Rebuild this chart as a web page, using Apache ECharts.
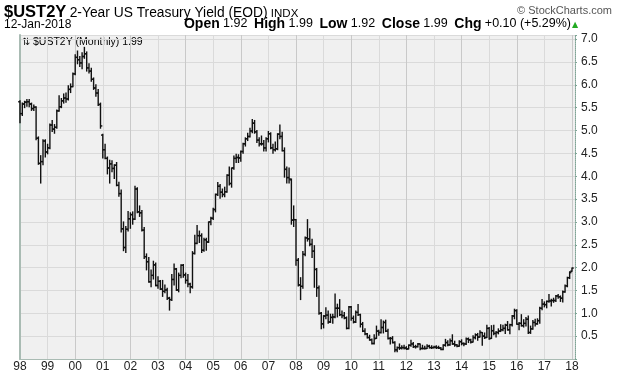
<!DOCTYPE html>
<html><head><meta charset="utf-8">
<script src="https://cdn.jsdelivr.net/npm/echarts@6/dist/echarts.min.js"></script>
<style>html,body{margin:0;padding:0;background:#fff}#c{width:620px;height:379px}</style>
</head><body><div id="c"></div>
<script>
// Monthly bars, Jan 1998 .. Jan 2018 (one row per year)
const startYear = 1998;
const yearLabels = ['98','99','00','01','02','03','04','05','06','07','08','09','10','11','12','13','14','15','16','17','18'];
const yTicks = [0.5,1.0,1.5,2.0,2.5,3.0,3.5,4.0,4.5,5.0,5.5,6.0,6.5,7.0];

const opens = [
5.63,5.37,5.58,5.62,5.63,5.58,5.48,5.51,4.83,4.28,4.32,4.77,
4.53,4.62,5.12,5.03,5.07,5.43,5.52,5.65,5.71,5.69,5.90,5.96,
6.24,6.60,6.55,6.48,6.62,6.68,6.37,6.30,6.12,5.93,5.82,5.57,
4.90,4.58,4.39,4.18,4.27,4.17,4.24,3.80,3.62,2.85,2.44,2.84,
3.07,3.16,3.06,3.72,3.22,3.20,2.82,2.24,2.13,1.69,1.83,2.06,
1.61,1.70,1.53,1.48,1.51,1.33,1.30,1.74,1.97,1.51,1.83,2.05,
1.84,1.72,1.64,1.58,2.31,2.53,2.70,2.70,2.38,2.61,2.56,3.00,
3.08,3.27,3.60,3.78,3.65,3.60,3.66,4.02,3.84,4.18,4.39,4.41,
4.40,4.54,4.71,4.82,4.87,4.99,5.16,4.97,4.79,4.71,4.71,4.62,
4.82,4.93,4.62,4.58,4.60,4.92,4.87,4.56,4.15,3.97,3.92,3.04,
3.05,2.16,1.62,1.59,2.29,2.65,2.63,2.51,2.36,1.96,1.56,1.00,
0.77,0.94,0.96,0.81,0.91,0.92,1.11,1.11,0.97,0.95,0.90,0.67,
1.14,0.89,0.81,1.02,0.97,0.76,0.61,0.55,0.47,0.42,0.34,0.45,
0.61,0.58,0.69,0.80,0.61,0.45,0.45,0.36,0.20,0.25,0.24,0.25,
0.24,0.22,0.30,0.33,0.27,0.27,0.33,0.23,0.23,0.23,0.28,0.25,
0.25,0.26,0.25,0.24,0.21,0.30,0.36,0.31,0.40,0.33,0.31,0.28,
0.38,0.34,0.33,0.44,0.42,0.37,0.47,0.53,0.48,0.58,0.50,0.47,
0.67,0.45,0.62,0.56,0.58,0.61,0.64,0.67,0.74,0.64,0.75,0.94,
1.06,0.76,0.78,0.73,0.78,0.87,0.58,0.66,0.80,0.77,0.84,1.11,
1.20,1.19,1.26,1.27,1.28,1.28,1.38,1.36,1.33,1.47,1.60,1.78,
1.92];
const highs = [
5.65,5.60,5.64,5.68,5.68,5.60,5.56,5.52,4.86,4.45,4.80,4.80,
4.70,5.14,5.22,5.13,5.45,5.76,5.70,5.80,5.82,5.98,6.02,6.26,
6.66,6.74,6.62,6.70,6.82,6.72,6.46,6.36,6.15,6.00,5.90,5.60,
4.92,4.70,4.42,4.35,4.34,4.25,4.30,3.87,3.70,3.00,2.90,3.23,
3.20,3.22,3.78,3.75,3.35,3.25,2.88,2.30,2.22,1.95,2.14,2.10,
1.80,1.72,1.72,1.62,1.55,1.35,1.85,2.08,1.98,1.88,2.06,2.07,
1.88,1.85,1.66,2.35,2.71,2.92,2.80,2.74,2.64,2.64,3.00,3.10,
3.30,3.61,3.86,3.82,3.72,3.76,4.03,4.20,4.18,4.44,4.48,4.47,
4.55,4.72,4.84,4.94,5.05,5.24,5.22,5.00,4.84,4.88,4.78,4.84,
4.98,4.95,4.70,4.75,4.93,5.12,4.96,4.62,4.20,4.18,3.94,3.35,
3.05,2.20,1.78,2.35,2.67,3.05,2.85,2.62,2.48,1.98,1.60,1.02,
0.95,1.12,1.05,0.98,0.98,1.42,1.20,1.30,1.05,1.02,0.92,1.15,
1.15,0.94,1.05,1.19,0.98,0.80,0.66,0.56,0.52,0.44,0.53,0.72,
0.63,0.86,0.83,0.85,0.65,0.47,0.49,0.38,0.26,0.33,0.29,0.30,
0.27,0.31,0.41,0.36,0.30,0.34,0.33,0.30,0.28,0.31,0.30,0.29,
0.28,0.29,0.28,0.25,0.31,0.43,0.40,0.44,0.53,0.39,0.32,0.40,
0.42,0.35,0.46,0.46,0.43,0.51,0.55,0.56,0.62,0.58,0.57,0.74,
0.69,0.73,0.74,0.60,0.66,0.75,0.74,0.76,0.82,0.76,0.95,1.09,
1.08,0.80,0.97,0.86,0.91,0.94,0.72,0.84,0.87,0.88,1.13,1.30,
1.25,1.27,1.41,1.31,1.33,1.39,1.41,1.38,1.49,1.62,1.79,1.91,
1.99];
const lows = [
5.17,5.33,5.50,5.53,5.52,5.44,5.44,4.80,4.26,3.85,4.25,4.42,
4.49,4.60,4.98,4.94,5.05,5.42,5.50,5.60,5.62,5.67,5.83,5.96,
6.22,6.46,6.40,6.35,6.58,6.30,6.26,6.08,5.90,5.75,5.55,5.05,
4.40,4.38,4.05,3.85,4.10,3.95,3.79,3.56,2.78,2.37,2.33,2.80,
2.86,2.95,3.05,3.20,3.12,2.80,2.20,1.95,1.68,1.58,1.75,1.60,
1.55,1.52,1.37,1.45,1.30,1.07,1.28,1.62,1.50,1.47,1.78,1.79,
1.66,1.58,1.45,1.55,2.30,2.52,2.55,2.33,2.36,2.38,2.55,2.94,
3.05,3.22,3.58,3.52,3.55,3.55,3.65,3.81,3.76,4.15,4.30,4.30,
4.33,4.50,4.66,4.78,4.86,4.95,4.94,4.74,4.66,4.68,4.55,4.55,
4.75,4.60,4.50,4.55,4.58,4.82,4.55,3.98,3.85,3.85,2.95,2.90,
2.05,1.60,1.30,1.55,2.26,2.58,2.48,2.22,1.57,1.37,0.98,0.66,
0.68,0.88,0.78,0.80,0.78,0.90,0.92,0.95,0.90,0.88,0.66,0.66,
0.85,0.79,0.80,0.95,0.70,0.60,0.53,0.46,0.41,0.33,0.33,0.45,
0.52,0.57,0.57,0.60,0.44,0.33,0.35,0.16,0.16,0.21,0.22,0.22,
0.21,0.22,0.28,0.25,0.24,0.26,0.20,0.22,0.22,0.23,0.24,0.23,
0.24,0.23,0.23,0.20,0.20,0.28,0.29,0.30,0.32,0.28,0.27,0.28,
0.31,0.29,0.32,0.36,0.35,0.37,0.44,0.41,0.48,0.30,0.45,0.47,
0.43,0.45,0.53,0.48,0.55,0.60,0.62,0.56,0.63,0.55,0.72,0.88,
0.76,0.64,0.72,0.70,0.72,0.56,0.56,0.65,0.72,0.76,0.78,1.08,
1.14,1.12,1.24,1.16,1.24,1.26,1.33,1.26,1.25,1.46,1.58,1.76,
1.92];
const closes = [
5.37,5.58,5.62,5.63,5.58,5.48,5.51,4.83,4.28,4.32,4.77,4.53,
4.62,5.12,5.03,5.07,5.43,5.52,5.65,5.71,5.69,5.90,5.96,6.24,
6.60,6.55,6.48,6.62,6.68,6.37,6.30,6.12,5.93,5.82,5.57,5.10,
4.58,4.39,4.18,4.27,4.17,4.24,3.80,3.62,2.85,2.44,2.84,3.07,
3.16,3.06,3.72,3.22,3.20,2.82,2.24,2.13,1.69,1.83,2.06,1.61,
1.70,1.53,1.48,1.51,1.33,1.30,1.74,1.97,1.51,1.83,2.05,1.84,
1.72,1.64,1.58,2.31,2.53,2.70,2.70,2.38,2.61,2.56,3.00,3.08,
3.27,3.60,3.78,3.65,3.60,3.66,4.02,3.84,4.18,4.39,4.41,4.40,
4.54,4.71,4.82,4.87,4.99,5.16,4.97,4.79,4.71,4.71,4.62,4.82,
4.93,4.62,4.58,4.60,4.92,4.87,4.56,4.15,3.97,3.94,3.04,3.05,
2.16,1.62,1.59,2.29,2.65,2.63,2.51,2.36,1.96,1.56,1.00,0.77,
0.94,0.96,0.81,0.91,0.92,1.11,1.11,0.97,0.95,0.90,0.67,1.14,
0.89,0.81,1.02,0.97,0.76,0.61,0.55,0.47,0.42,0.34,0.45,0.61,
0.58,0.69,0.80,0.61,0.45,0.45,0.36,0.20,0.25,0.24,0.25,0.24,
0.22,0.30,0.33,0.27,0.27,0.33,0.23,0.23,0.23,0.28,0.25,0.25,
0.26,0.25,0.24,0.21,0.30,0.36,0.31,0.40,0.33,0.31,0.28,0.38,
0.34,0.33,0.44,0.42,0.37,0.47,0.53,0.48,0.58,0.50,0.47,0.67,
0.45,0.62,0.56,0.58,0.61,0.64,0.67,0.74,0.64,0.75,0.94,1.06,
0.76,0.78,0.73,0.78,0.87,0.58,0.66,0.80,0.77,0.84,1.11,1.20,
1.19,1.26,1.27,1.28,1.28,1.38,1.36,1.33,1.47,1.60,1.78,1.89,
1.99];

const symbol = '$UST2Y';
const titleText = '2-Year US Treasury Yield (EOD)';
const dateText = '12-Jan-2018';
const quote = {open:'1.92', high:'1.99', low:'1.92', close:'1.99', chg:'+0.10 (+5.29%)'};

const data = closes.map((c, i) => [startYear + i / 12, opens[i], highs[i], lows[i], c]);

const FONT = 'Liberation Sans';
const frameColor = '#a9bbb3';
const chart = echarts.init(document.getElementById('c'));
chart.setOption({
  animation: false,
  backgroundColor: '#fff',
  grid: {left: 20, right: 45, top: 35, bottom: 20, show: true, backgroundColor: '#f0f0f0', borderWidth: 0},
  xAxis: [{
    type: 'value', min: 1998, max: 2018.11, interval: 1,
    axisLine: {show: true, lineStyle: {color: frameColor, width: 1}},
    axisTick: {show: false},
    axisLabel: {color: '#222', fontFamily: FONT, fontSize: 12, margin: 2,
      formatter: v => { const k = Math.round(v - startYear); return Math.abs(v - startYear - k) < 1e-6 ? (yearLabels[k] || '') : ''; }},
    splitLine: {show: true, lineStyle: {color: ['#c9c9c9', '#dadada'], width: 1}}
  }, {
    type: 'value', position: 'top', min: 1998, max: 2018.11,
    axisLine: {show: true, lineStyle: {color: frameColor}}, axisTick: {show: false}, axisLabel: {show: false}, splitLine: {show: false}
  }],
  yAxis: [{
    type: 'value', position: 'right', min: 0, max: 7.09, interval: 0.5,
    axisLine: {show: true, lineStyle: {color: '#7fa596', type: 'dotted', width: 1}},
    axisTick: {show: true, length: 2, lineStyle: {color: '#7fa596'}},
    axisLabel: {color: '#222', fontFamily: FONT, fontSize: 12, margin: 6,
      formatter: v => { const t = yTicks.find(q => Math.abs(q - v) < 1e-6); return t === undefined ? '' : t.toFixed(1); }},
    splitLine: {show: true, lineStyle: {color: '#dadada', width: 1}}
  }, {
    type: 'value', position: 'left', min: 0, max: 7.09,
    axisLine: {show: true, lineStyle: {color: frameColor, width: 2}}, axisTick: {show: false}, axisLabel: {show: false}, splitLine: {show: false}
  }],
  series: [{
    type: 'custom',
    data: data,
    encode: {x: 0, y: [1, 2, 3, 4]},
    renderItem: function (params, api) {
      const t = api.value(0);
      const o = api.coord([t, api.value(1)]);
      const h = api.coord([t, api.value(2)]);
      const l = api.coord([t, api.value(3)]);
      const c = api.coord([t, api.value(4)]);
      const x = h[0];
      const st = {stroke: '#111', lineWidth: 1.4};
      return {type: 'group', children: [
        {type: 'line', shape: {x1: x, y1: h[1] - 0.5, x2: x, y2: l[1] + 0.5}, style: st},
        {type: 'line', shape: {x1: x - 1.8, y1: o[1], x2: x, y2: o[1]}, style: st},
        {type: 'line', shape: {x1: x, y1: c[1], x2: x + 1.8, y2: c[1]}, style: st}
      ]};
    }
  }],
  graphic: [
    {type: 'text', left: 4, top: 4, style: {
      text: '{a|' + symbol + '} {b|' + titleText + '} {c|INDX}',
      rich: {
        a: {fontFamily: FONT, fontSize: 16.5, fontWeight: 'bold', fill: '#000', verticalAlign: 'bottom'},
        b: {fontFamily: FONT, fontSize: 13.8, fill: '#000', verticalAlign: 'bottom', padding: [0, 0, 1, 0]},
        c: {fontFamily: FONT, fontSize: 11.5, fill: '#000', verticalAlign: 'bottom', padding: [0, 0, 1, 0]}
      }}},
    {type: 'text', right: 8, top: 5, style: {text: '\u00A9 StockCharts.com', fontFamily: FONT, fontSize: 11, fill: '#555'}},
    {type: 'text', left: 4, top: 19, style: {text: dateText, fontFamily: FONT, fontSize: 12, fill: '#000'}},
    {type: 'text', right: 49, top: 17, style: {
      text: '{l|Open} {v|' + quote.open + '}  {l|High} {v|' + quote.high + '}  {l|Low} {v|' + quote.low + '}  {l|Close} {v|' + quote.close + '}  {l|Chg} {v|' + quote.chg + '}',
      rich: {
        l: {fontFamily: FONT, fontSize: 14, fontWeight: 'bold', fill: '#000', verticalAlign: 'bottom'},
        v: {fontFamily: FONT, fontSize: 12.5, fill: '#000', verticalAlign: 'bottom', padding: [0, 0, 1, 0]}
      }}},
    {type: 'text', left: 572, top: 21, style: {text: '\u25B2', fontFamily: 'DejaVu Sans', fontSize: 8, fill: '#22aa22'}},
    {type: 'text', left: 22, top: 37, style: {text: '\u21C5', fontFamily: 'DejaVu Sans', fontSize: 10, fill: '#111'}},
    {type: 'text', left: 33, top: 37, style: {text: symbol + ' (Monthly) ' + quote.close, fontFamily: FONT, fontSize: 10.5, fill: '#000'}}
  ]
});
</script>
</body></html>
